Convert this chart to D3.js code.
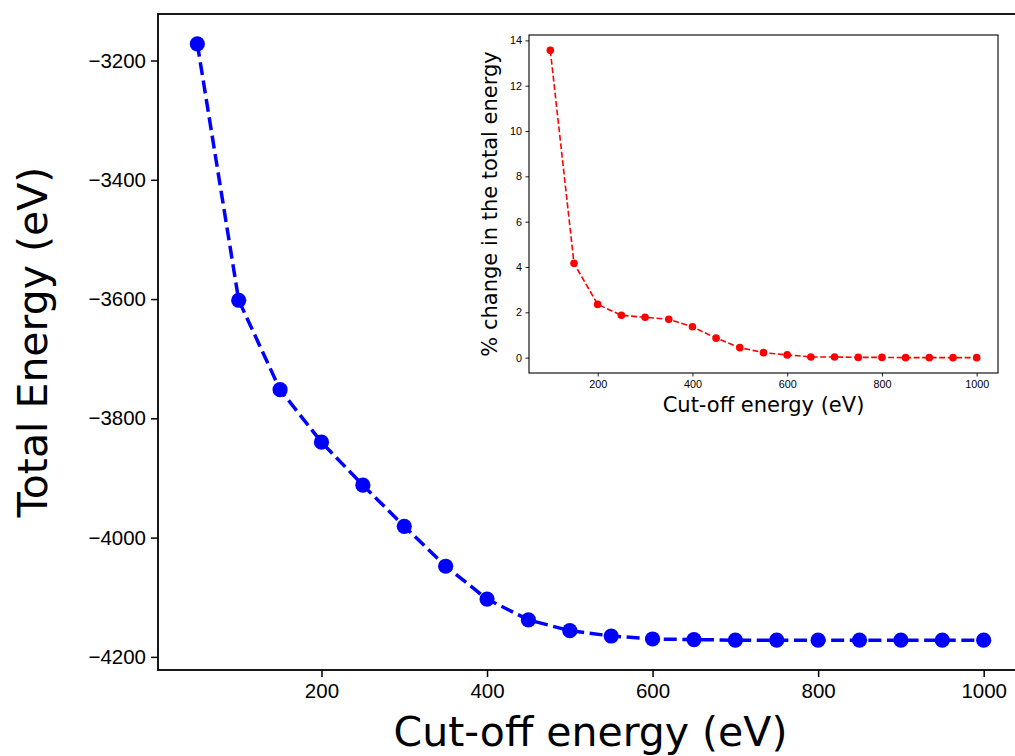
<!DOCTYPE html>
<html>
<head>
<meta charset="utf-8">
<script src="https://cdn.jsdelivr.net/npm/d3@7"></script>
<style>
  body { margin: 0; background: #fff; }
  svg { font-family: "DejaVu Sans", sans-serif; }
</style>
</head>
<body>
<div id="chart"></div>
<script>
// data
let cutoff = [50, 100, 150, 200, 250, 300, 350, 400, 450, 500, 550, 600, 650, 700, 750, 800, 850, 900, 950, 1000]
let totalEnergy = [-3172, -3602, -3752, -3840, -3912, -3981, -4048, -4103, -4138, -4156, -4165, -4170, -4171, -4172, -4172, -4172, -4172, -4172, -4172, -4172]

let insetCutoff = [100, 150, 200, 250, 300, 350, 400, 450, 500, 550, 600, 650, 700, 750, 800, 850, 900, 950, 1000]
let pctChange = [13.56, 4.16, 2.35, 1.87, 1.78, 1.69, 1.36, 0.86, 0.44, 0.22, 0.12, 0.03, 0.03, 0.01, 0.01, 0.0, 0.0, 0.0, 0.0]

let mainXTicks = [200, 400, 600, 800, 1000]
let mainYTicks = [-3200, -3400, -3600, -3800, -4000, -4200]
let insetXTicks = [200, 400, 600, 800, 1000]
let insetYTicks = [0, 2, 4, 6, 8, 10, 12, 14]

let svgWidth = 1015
let svgHeight = 756

let svg = d3.select("#chart")
    .append("svg")
    .attr("width", svgWidth)
    .attr("height", svgHeight)

// matplotlib-style 5% padding
function padded(vals) {
    let lo = d3.min(vals), hi = d3.max(vals)
    let p = (hi - lo) * 0.05
    return [lo - p, hi + p]
}

let fmt = d => String(d).replace("-", "\u2212")

// ---------- main axes ----------
let main = { left: 158, right: 1023, top: 14, bottom: 670 }

let x = d3.scaleLinear().domain(padded(cutoff)).range([main.left, main.right])
let y = d3.scaleLinear().domain(padded(totalEnergy)).range([main.bottom, main.top])

let xAxis = d3.axisBottom(x).tickValues(mainXTicks).tickSize(7).tickPadding(6).tickFormat(fmt)
let yAxis = d3.axisLeft(y).tickValues(mainYTicks).tickSize(7).tickPadding(5).tickFormat(fmt)

let gx = svg.append("g")
    .attr("transform", `translate(0, ${main.bottom})`)
    .call(xAxis)
let gy = svg.append("g")
    .attr("transform", `translate(${main.left}, 0)`)
    .call(yAxis)

;[gx, gy].forEach(g => {
    g.select(".domain").remove()
    g.selectAll(".tick line").attr("stroke", "#000").attr("stroke-width", 1.5)
    g.selectAll(".tick text").attr("fill", "#000").style("font-size", "20.5px")
})
gx.selectAll(".tick text").attr("dy", "0.71em")

// frame (right side is cut off by the page)
svg.append("rect")
    .attr("x", main.left)
    .attr("y", main.top)
    .attr("width", main.right - main.left)
    .attr("height", main.bottom - main.top)
    .attr("fill", "none")
    .attr("stroke", "#000")
    .attr("stroke-width", 1.8)

let line = d3.line().x((d, i) => x(cutoff[i])).y(d => y(d))

svg.append("path")
    .datum(totalEnergy)
    .attr("d", line)
    .attr("fill", "none")
    .attr("stroke", "#0000ff")
    .attr("stroke-width", 3.5)
    .attr("stroke-dasharray", "13,5.6")

svg.append("g").selectAll("circle")
    .data(totalEnergy)
    .enter()
    .append("circle")
    .attr("cx", (d, i) => x(cutoff[i]))
    .attr("cy", d => y(d))
    .attr("r", 7.6)
    .attr("fill", "#0000ff")

// axis labels
svg.append("text")
    .attr("x", (main.left + main.right) / 2)
    .attr("y", 746)
    .attr("text-anchor", "middle")
    .style("font-size", "41px")
    .text("Cut-off energy (eV)")

svg.append("text")
    .attr("transform", `translate(47, ${(main.top + main.bottom) / 2}) rotate(-90)`)
    .attr("text-anchor", "middle")
    .style("font-size", "41px")
    .text("Total Energy (eV)")

// ---------- inset ----------
let ins = { left: 529, right: 998, top: 35, bottom: 373 }

let ix = d3.scaleLinear().domain(padded(insetCutoff)).range([ins.left, ins.right])
let iy = d3.scaleLinear().domain(padded(pctChange)).range([ins.bottom, ins.top])

svg.append("rect")
    .attr("x", ins.left)
    .attr("y", ins.top)
    .attr("width", ins.right - ins.left)
    .attr("height", ins.bottom - ins.top)
    .attr("fill", "#fff")
    .attr("stroke", "#000")
    .attr("stroke-width", 1.1)

let igx = svg.append("g")
    .attr("transform", `translate(0, ${ins.bottom})`)
    .call(d3.axisBottom(ix).tickValues(insetXTicks).tickSize(3.5).tickPadding(3.5).tickFormat(d3.format("d")))
let igy = svg.append("g")
    .attr("transform", `translate(${ins.left}, 0)`)
    .call(d3.axisLeft(iy).tickValues(insetYTicks).tickSize(3.5).tickPadding(3.5).tickFormat(d3.format("d")))

;[igx, igy].forEach(g => {
    g.select(".domain").remove()
    g.selectAll(".tick line").attr("stroke", "#000").attr("stroke-width", 0.9)
    g.selectAll(".tick text").attr("fill", "#000").style("font-size", "10.8px")
})

let iline = d3.line().x((d, i) => ix(insetCutoff[i])).y(d => iy(d))

svg.append("path")
    .datum(pctChange)
    .attr("d", iline)
    .attr("fill", "none")
    .attr("stroke", "#ff0000")
    .attr("stroke-width", 1.6)
    .attr("stroke-dasharray", "5.9,2.6")

svg.append("g").selectAll("circle")
    .data(pctChange)
    .enter()
    .append("circle")
    .attr("cx", (d, i) => ix(insetCutoff[i]))
    .attr("cy", d => iy(d))
    .attr("r", 3.8)
    .attr("fill", "#ff0000")

svg.append("text")
    .attr("x", (ins.left + ins.right) / 2)
    .attr("y", 412)
    .attr("text-anchor", "middle")
    .style("font-size", "21px")
    .text("Cut-off energy (eV)")

svg.append("text")
    .attr("transform", `translate(497, ${(ins.top + ins.bottom) / 2}) rotate(-90)`)
    .attr("text-anchor", "middle")
    .style("font-size", "21px")
    .text("% change in the total energy")
</script>
</body>
</html>
